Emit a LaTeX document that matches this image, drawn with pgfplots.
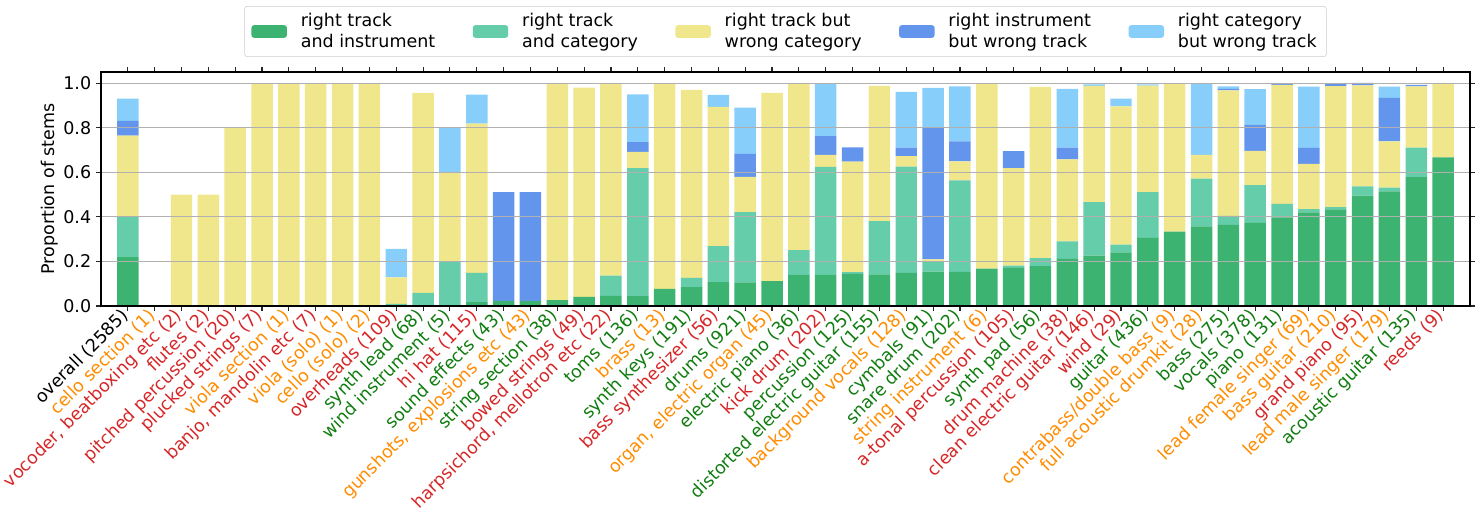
\documentclass[border=0pt]{standalone}
\usepackage{fontspec}
\setmainfont{DejaVu Sans}
\usepackage{pgfplots}
\usepackage{pgfplotstable}
\pgfplotsset{compat=1.18}

\definecolor{cGreen}{HTML}{3CB371}
\definecolor{cAqua}{HTML}{66CDAA}
\definecolor{cKhaki}{HTML}{F0E68C}
\definecolor{cBlue}{HTML}{6495ED}
\definecolor{cSky}{HTML}{87CEFA}
\definecolor{lRed}{HTML}{D62728}
\definecolor{lOrange}{HTML}{FF8C00}
\definecolor{lGreen}{HTML}{107C10}

\newcommand{\cR}[1]{\textcolor{lRed}{#1}}
\newcommand{\cO}[1]{\textcolor{lOrange}{#1}}
\newcommand{\cG}[1]{\textcolor{lGreen}{#1}}

% columns: right track+instrument, right track+category, right track wrong category,
% right instrument wrong track, right category wrong track
\pgfplotstableread{
x  g     a     k     b     s
0  0.219 0.183 0.362 0.067 0.099
1  0     0     0     0     0
2  0     0     0.5   0     0
3  0     0     0.5   0     0
4  0     0     0.8   0     0
5  0     0     1     0     0
6  0     0     1     0     0
7  0     0     1     0     0
8  0     0     1     0     0
9  0     0     1     0     0
10 0     0.009 0.119 0     0.128
11 0     0.059 0.897 0     0
12 0     0.2   0.4   0     0.2
13 0.017 0.131 0.670 0     0.130
14 0.023 0     0     0.488 0
15 0.023 0     0     0.488 0
16 0.026 0     0.974 0     0
17 0.041 0     0.939 0     0
18 0.045 0.091 0.864 0     0
19 0.044 0.574 0.073 0.044 0.214
20 0.077 0     0.923 0     0
21 0.084 0.042 0.843 0     0
22 0.107 0.161 0.625 0     0.054
23 0.106 0.315 0.158 0.103 0.208
24 0.111 0     0.845 0     0
25 0.139 0.111 0.750 0     0
26 0.139 0.485 0.054 0.084 0.233
27 0.144 0.008 0.496 0.064 0
28 0.142 0.239 0.606 0     0
29 0.148 0.477 0.047 0.039 0.250
30 0.154 0.044 0.011 0.593 0.176
31 0.153 0.411 0.085 0.089 0.247
32 0.167 0     0.833 0     0
33 0.171 0.010 0.438 0.076 0
34 0.179 0.036 0.768 0     0
35 0.211 0.079 0.368 0.053 0.263
36 0.226 0.240 0.521 0     0.007
37 0.241 0.034 0.621 0     0.034
38 0.305 0.206 0.478 0     0.005
39 0.333 0     0.667 0     0
40 0.357 0.214 0.107 0     0.321
41 0.364 0.040 0.563 0.007 0.011
42 0.373 0.169 0.154 0.116 0.161
43 0.397 0.061 0.534 0.008 0
44 0.420 0.014 0.203 0.072 0.275
45 0.433 0.010 0.543 0.014 0
46 0.495 0.042 0.453 0.011 0
47 0.514 0.017 0.207 0.196 0.050
48 0.578 0.133 0.274 0.007 0
49 0.667 0     0.333 0     0
}\stems

\begin{document}
\begin{tikzpicture}
\begin{axis}[
  name=main,
  width=985.7pt, height=168.5pt, scale only axis,
  ybar stacked, bar width=0.8,
  xmin=-1, xmax=50, ymin=0, ymax=1.05,
  axis on top,
  ymajorgrids, grid style={color=black!31, line width=0.8pt},
  axis line style={line width=0.8pt},
  tick align=outside, major tick length=3.5pt,
  tick style={line width=0.8pt, color=black!85},
  xtick={0,...,49},
  ytick={0,0.2,...,1.0},
  font=\fontsize{12.6pt}{15.2pt}\selectfont,
  /pgf/number format/assume math mode=true,
  yticklabel style={/pgf/number format/.cd, fixed, fixed zerofill, precision=1},
  ylabel={Proportion of stems},
  every axis y label/.style={at={([xshift=-36.7pt]axis description cs:0,0.5)}, rotate=90, anchor=center},
  xticklabel style={rotate=45, anchor=east, inner sep=2pt},
  xticklabels={
    overall (2585), \cO{cello section (1)}, \cR{vocoder, beatboxing etc (2)}, \cR{flutes (2)},
    \cR{pitched percussion (20)}, \cR{plucked strings (7)}, \cO{viola section (1)},
    \cR{banjo, mandolin etc (7)}, \cO{viola (solo) (1)}, \cO{cello (solo) (2)},
    \cR{overheads (109)}, \cG{synth lead (68)}, \cG{wind instrument (5)}, \cR{hi hat (115)},
    \cG{sound effects (43)}, \cO{gunshots, explosions etc (43)}, \cG{string section (38)},
    \cR{bowed strings (49)}, \cR{harpsichord, mellotron etc (22)}, \cG{toms (136)},
    \cO{brass (13)}, \cG{synth keys (191)}, \cR{bass synthesizer (56)}, \cG{drums (921)},
    \cO{organ, electric organ (45)}, \cG{electric piano (36)}, \cR{kick drum (202)},
    \cG{percussion (125)}, \cG{distorted electric guitar (155)}, \cO{background vocals (128)},
    \cG{cymbals (91)}, \cG{snare drum (202)}, \cO{string instrument (6)},
    \cR{a-tonal percussion (105)}, \cG{synth pad (56)}, \cR{drum machine (38)},
    \cR{clean electric guitar (146)}, \cR{wind (29)}, \cG{guitar (436)},
    \cO{contrabass/double bass (9)}, \cO{full acoustic drumkit (28)}, \cG{bass (275)},
    \cG{vocals (378)}, \cG{piano (131)}, \cO{lead female singer (69)}, \cO{bass guitar (210)},
    \cR{grand piano (95)}, \cO{lead male singer (179)}, \cG{acoustic guitar (135)}, \cR{reeds (9)}
  },
  legend columns=5,
  legend cell align=left,
  legend style={at={(0.5,1.064)}, anchor=south, draw=black!20, rounded corners=2pt,
    cells={align=left}, inner xsep=5pt, inner ysep=3pt,
    /tikz/every odd column/.append style={column sep=8pt},
    /tikz/every even column/.append style={column sep=25pt}},
  legend image code/.code={\fill[#1] (0pt,-4.6pt) rectangle (25.5pt,4.6pt);},
]
\addplot[fill=cGreen, draw=none] table[x=x, y=g] {\stems};
\addplot[fill=cAqua, draw=none] table[x=x, y=a] {\stems};
\addplot[fill=cKhaki, draw=none] table[x=x, y=k] {\stems};
\addplot[fill=cBlue, draw=none] table[x=x, y=b] {\stems};
\addplot[fill=cSky, draw=none] table[x=x, y=s] {\stems};
\legend{{right track\\and instrument}, {right track\\and category}, {right track but\\wrong category}, {right instrument\\but wrong track}, {right category\\but wrong track}}
\end{axis}
\pgfresetboundingbox
\path[use as bounding box] ([shift={(-72.7pt,-146.9pt)}]main.south west) rectangle ([shift={(5.8pt,220.3pt)}]main.south east);
\end{tikzpicture}
\end{document}
